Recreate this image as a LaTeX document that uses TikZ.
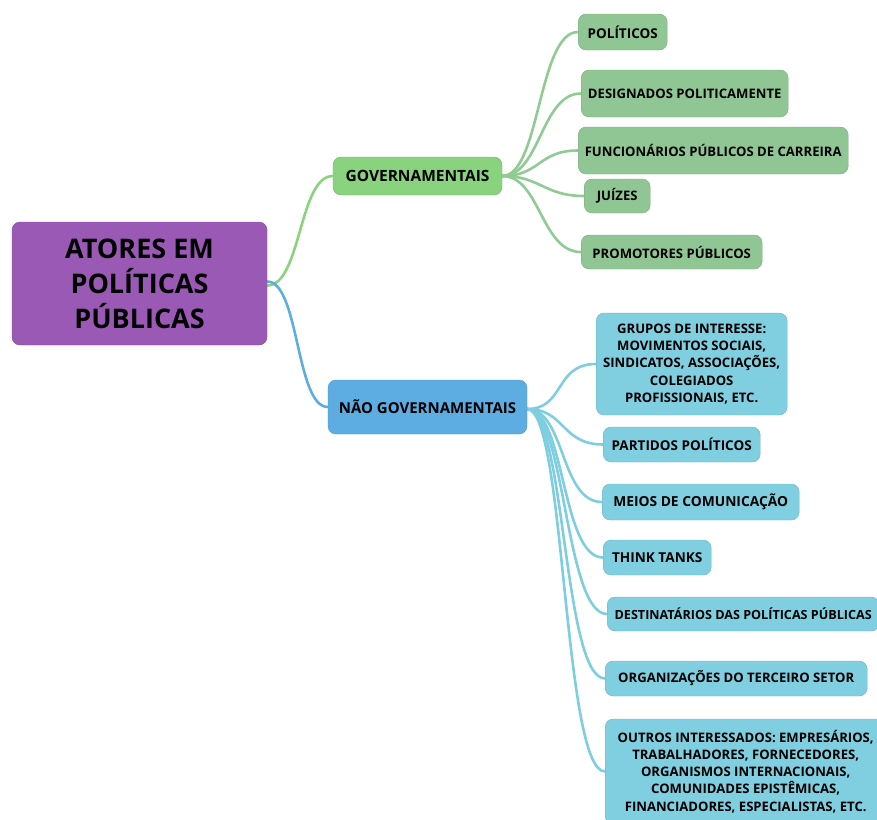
\documentclass[tikz,border=0pt]{standalone}
\usepackage{fontspec}
\setmainfont{Open Sans}
\usetikzlibrary{backgrounds}
\definecolor{rootc}{HTML}{9B59B6}
\definecolor{govc}{HTML}{8AD37E}
\definecolor{gchild}{HTML}{90C694}
\definecolor{naoc}{HTML}{5DADE2}
\definecolor{bchild}{HTML}{80CFE0}
\definecolor{gline}{HTML}{8FCB92}
\definecolor{bline}{HTML}{7FCEE0}
\newcommand{\fsz}[1]{\bfseries\fontsize{#1}{17.2}\selectfont}
\tikzset{
  box/.style={rounded corners=8pt, text=black, inner sep=0pt, align=center},
  rootbox/.style={box, fill=rootc, draw=rootc!85!black, line width=0.4pt},
  govbox/.style={box, fill=govc, draw=govc!85!black, line width=0.4pt},
  naobox/.style={box, fill=naoc, draw=naoc!85!black, line width=0.4pt},
  gbox/.style={box, fill=gchild, draw=gchild!85!black, line width=0.4pt, anchor=west, font=\fsz{13.1}},
  bbox/.style={box, fill=bchild, draw=bchild!85!black, line width=0.4pt, anchor=west, font=\fsz{13.1}},
  link/.style={line width=2.6pt, line cap=round},
}
\begin{document}
\begin{tikzpicture}[x=1pt,y=-1pt]
\useasboundingbox (0,0) rectangle (877,819);
\clip (0,0) rectangle (877,819);
% root
\node[rootbox, minimum width=255, minimum height=123, font=\bfseries\fontsize{27}{35}\selectfont] (root) at (139.5,283.5) {ATORES EM\\POLÍTICAS\\PÚBLICAS};
\node[govbox, minimum width=169, minimum height=38, font=\bfseries\fontsize{15.5}{19}\selectfont] (gov) at (417.5,176) {GOVERNAMENTAIS};
\node[naobox, minimum width=199, minimum height=54, font=\bfseries\fontsize{15}{19}\selectfont] (nao) at (427.5,407) {NÃO GOVERNAMENTAIS};
% green children
\node[gbox, minimum width=89, minimum height=36, font=\fsz{13.5}] (g1) at (578,32) {POLÍTICOS};
\node[gbox, minimum width=207, minimum height=47] (g2) at (581,93.5) {DESIGNADOS POLITICAMENTE};
\node[gbox, minimum width=270, minimum height=47] (g3) at (578,150.5) {FUNCIONÁRIOS PÚBLICOS DE CARREIRA};
\node[gbox, minimum width=66, minimum height=34] (g4) at (584,196) {JUÍZES};
\node[gbox, minimum width=181, minimum height=34] (g5) at (581,252) {PROMOTORES PÚBLICOS};
% blue children
\node[bbox, minimum width=191, minimum height=102] (b1) at (596,364) {GRUPOS DE INTERESSE:\\MOVIMENTOS SOCIAIS,\\SINDICATOS, ASSOCIAÇÕES,\\COLEGIADOS\\PROFISSIONAIS, ETC.};
\node[bbox, minimum width=157, minimum height=35, font=\fsz{13.5}] (b2) at (603,444.5) {PARTIDOS POLÍTICOS};
\node[bbox, minimum width=197, minimum height=36, font=\fsz{13.8}] (b3) at (602,502) {MEIOS DE COMUNICAÇÃO};
\node[bbox, minimum width=108, minimum height=35, font=\fsz{13.6}] (b4) at (603,557.5) {THINK TANKS};
\node[bbox, minimum width=272, minimum height=34, font=\fsz{12.6}] (b5) at (607,614) {DESTINATÁRIOS DAS POLÍTICAS PÚBLICAS};
\node[bbox, minimum width=262, minimum height=35] (b6) at (605,678.5) {ORGANIZAÇÕES DO TERCEIRO SETOR};
\node[bbox, minimum width=281, minimum height=105] (b7) at (605,771.5) {OUTROS INTERESSADOS: EMPRESÁRIOS,\\TRABALHADORES, FORNECEDORES,\\ORGANISMOS INTERNACIONAIS,\\COMUNIDADES EPISTÊMICAS,\\FINANCIADORES, ESPECIALISTAS, ETC.};
\begin{pgfonlayer}{background}
\draw[link, color=govc] ([yshift=-2]root.east) .. controls +(34,0) and +(-34,0) .. (gov.west);
\draw[link, color=naoc] ([yshift=2]root.east) .. controls +(32,0) and +(-32,0) .. (nao.west);
\foreach \c in {g1,g2,g3,g4,g5}{
  \draw[link, color=gline] (gov.east) .. controls +(38,0) and +(-40,0) .. (\c.west);
}
\foreach \c in {b1,b2,b3,b4,b5,b6,b7}{
  \draw[link, color=bline] ([yshift=-2]nao.east) .. controls +(38,0) and +(-42,0) .. (\c.west);
}
\end{pgfonlayer}
\end{tikzpicture}
\end{document}
